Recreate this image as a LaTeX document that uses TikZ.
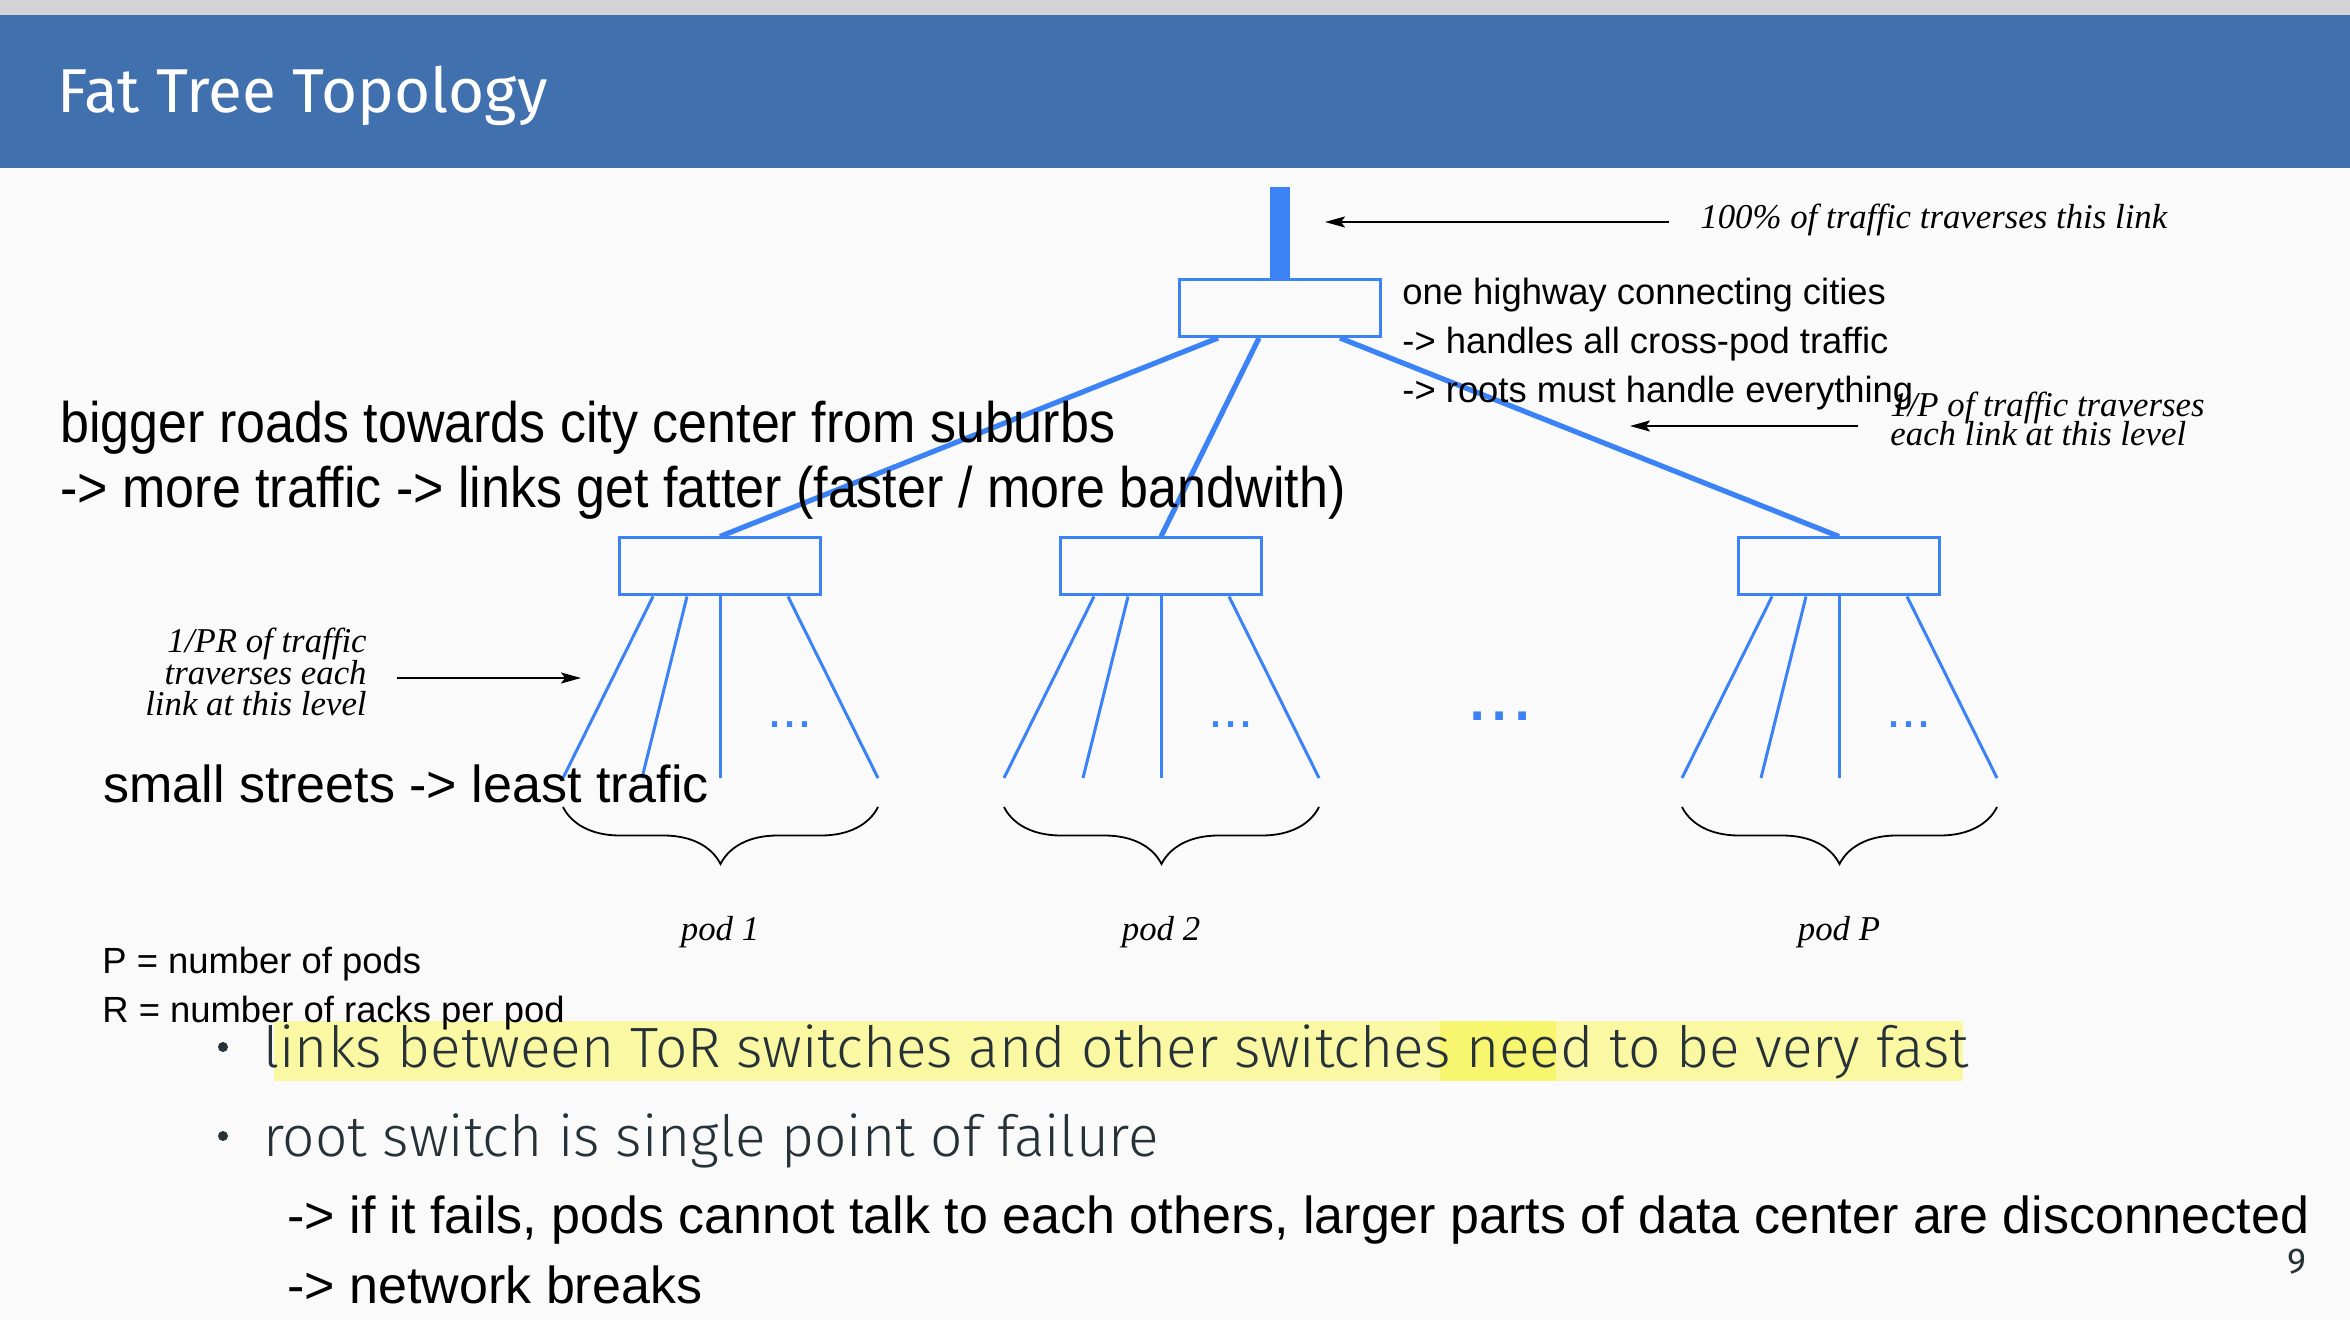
\documentclass[tikz,border=0pt]{standalone}
\usepackage{fontspec}
\setmainfont{Liberation Sans}
\newfontfamily\fira{Fira Sans}
\IfFontExistsTF{Fira Sans Light}{\newfontfamily\firal{Fira Sans Light}}{\newfontfamily\firal{Fira Sans}}
\newfontfamily\tms{Liberation Serif}
\usetikzlibrary{arrows.meta,decorations.pathreplacing}
\definecolor{hdr}{RGB}{65,112,174}
\definecolor{strip}{RGB}{212,212,216}
\definecolor{net}{RGB}{59,130,246}
\definecolor{slate}{RGB}{38,50,56}
\definecolor{hl}{RGB}{250,248,162}
\definecolor{hlb}{RGB}{248,245,110}
\definecolor{bg}{RGB}{250,250,250}
\begin{document}
\begin{tikzpicture}[x=0.5pt,y=-0.5pt,
  sw/.style={draw=net,line width=1.5pt,minimum width=100.5pt,minimum height=28.5pt,inner sep=0pt},
  podlink/.style={draw=net,line width=2.6pt},
  racklink/.style={draw=net,line width=1.5pt},
  arr/.style={draw=black,line width=1pt,-{Stealth[length=10pt,width=5.5pt,inset=2pt]}},
  brc/.style={draw=black,line width=0.9pt,decorate,decoration={brace,mirror,amplitude=28.5pt}},
  lab/.style={inner sep=0pt,font=\tms\itshape\fontsize{17.4}{20}\selectfont},
  note/.style={inner sep=0pt,anchor=base west,font=\fontsize{18.2}{22}\selectfont},
  big/.style={inner sep=0pt,anchor=base west,font=\fontsize{26}{30}\selectfont},
  bul/.style={inner sep=0pt,anchor=base west,text=slate,font=\firal\fontsize{28.4}{32}\selectfont},
  dotmark/.style={circle,fill=slate,inner sep=0pt,minimum size=5pt}]
\useasboundingbox (0,0) rectangle (2350,1320);
\fill[bg] (0,0) rectangle (2350,1320);
\fill[strip] (0,0) rectangle (2350,15);
\fill[hdr] (0,15) rectangle (2350,168);
\node[inner sep=0pt,anchor=base west,text=white,font=\fira\fontsize{31}{37}\selectfont] (title) at (57,113) {Fat Tree Topology};

% highlights
\fill[hl] (274,1021) rectangle (1963,1081);
\fill[hlb] (1440,1021) rectangle (1556,1081);

% switches
\node[sw] (root) at (1280,308) {};
\node[sw] (p1) at (720,566.5) {};
\node[sw] (p2) at (1161,566.5) {};
\node[sw] (pP) at (1839,566.5) {};

\coordinate (top) at (1280,187);
\draw[draw=net,line width=10pt] (top) -- (root.north);
\draw[podlink] ([xshift=-31pt]root.south) -- (p1.north);
\draw[podlink] ([xshift=-10.5pt]root.south) -- (p2.north);
\draw[podlink] ([xshift=30pt]root.south) -- (pP.north);

\foreach \p/\c/\t in {p1/720/pod 1,p2/1161/pod 2,pP/1839/pod P}{
  \coordinate (\p-a) at (\c-157,778);
  \coordinate (\p-b) at (\c-78,778);
  \coordinate (\p-c) at (\c,778);
  \coordinate (\p-d) at (\c+158,778);
  \draw[racklink] ([xshift=-33.5pt]\p.south) -- (\p-a);
  \draw[racklink] ([xshift=-16.5pt]\p.south) -- (\p-b);
  \draw[racklink] (\p.south) -- (\p-c);
  \draw[racklink] ([xshift=34pt]\p.south) -- (\p-d);
  \node[inner sep=0pt,anchor=base,text=net,font=\fontsize{27}{30}\selectfont] (\p-dots) at (\c+70,727) {...};
  \coordinate (\p-bl) at (\c-157,807);
  \coordinate (\p-br) at (\c+158,807);
  \draw[brc] (\p-bl) -- (\p-br);
  \node[lab,anchor=base] (\p-lab) at (\c,940) {\t};
}
\node[inner sep=0pt,anchor=base,text=net,font=\fontsize{40}{44}\selectfont] (middots) at (1500,720) {...};

% annotations
\node[lab,anchor=base west] (l100) at (1700,229) {100\% of traffic traverses this link};
\coordinate (a1s) at (1669,222);
\coordinate (a1e) at (1325,222);
\draw[arr] (a1s) -- (a1e);

\node[lab,anchor=base west] (lp1) at (1890,417) {1/P of traffic traverses};
\node[lab,anchor=base west] (lp2) at (1890,446) {each link at this level};
\coordinate (a2s) at (1858,426);
\coordinate (a2e) at (1630,426);
\draw[arr] (a2s) -- (a2e);

\node[lab,anchor=base east] (lr1) at (367,653) {1/PR of traffic};
\node[lab,anchor=base east] (lr2) at (367,684) {traverses each};
\node[lab,anchor=base east] (lr3) at (367,715) {link at this level};
\coordinate (a3s) at (397,678);
\coordinate (a3e) at (581,678);
\draw[arr] (a3s) -- (a3e);

% sans notes
\node[note] (n1) at (1402,305) {one highway connecting cities};
\node[note] (n2) at (1402,354) {-> handles all cross-pod traffic};
\node[note] (n3) at (1402,403) {-> roots must handle everything};

\node[big] (g1) at (60,443) {\scalebox{1}[1.1]{bigger roads towards city center from suburbs}};
\node[big] (g2) at (60,508) {\scalebox{1}[1.1]{-> more traffic -> links get fatter (faster / more bandwith)}};
\node[big] (g3) at (103,802) {small streets -> least trafic};

\node[note] (d1) at (102,973) {P = number of pods};
\node[note] (d2) at (102,1022) {R = number of racks per pod};

% bullets
\node[dotmark] (b1) at (223,1047) {};
\node[bul] (t1) at (263,1067) {links between ToR switches and other switches need to be very fast};
\node[dotmark] (b2) at (223,1136) {};
\node[bul] (t2) at (263,1156) {root switch is single point of failure};
\node[big] (t3) at (287,1233) {-> if it fails, pods cannot talk to each others, larger parts of data center are disconnected};
\node[big] (t4) at (287,1303) {-> network breaks};

\node[inner sep=0pt,anchor=base east,text=slate,font=\fira\fontsize{18}{20}\selectfont] (pg) at (2307,1273) {9};
\end{tikzpicture}
\end{document}
